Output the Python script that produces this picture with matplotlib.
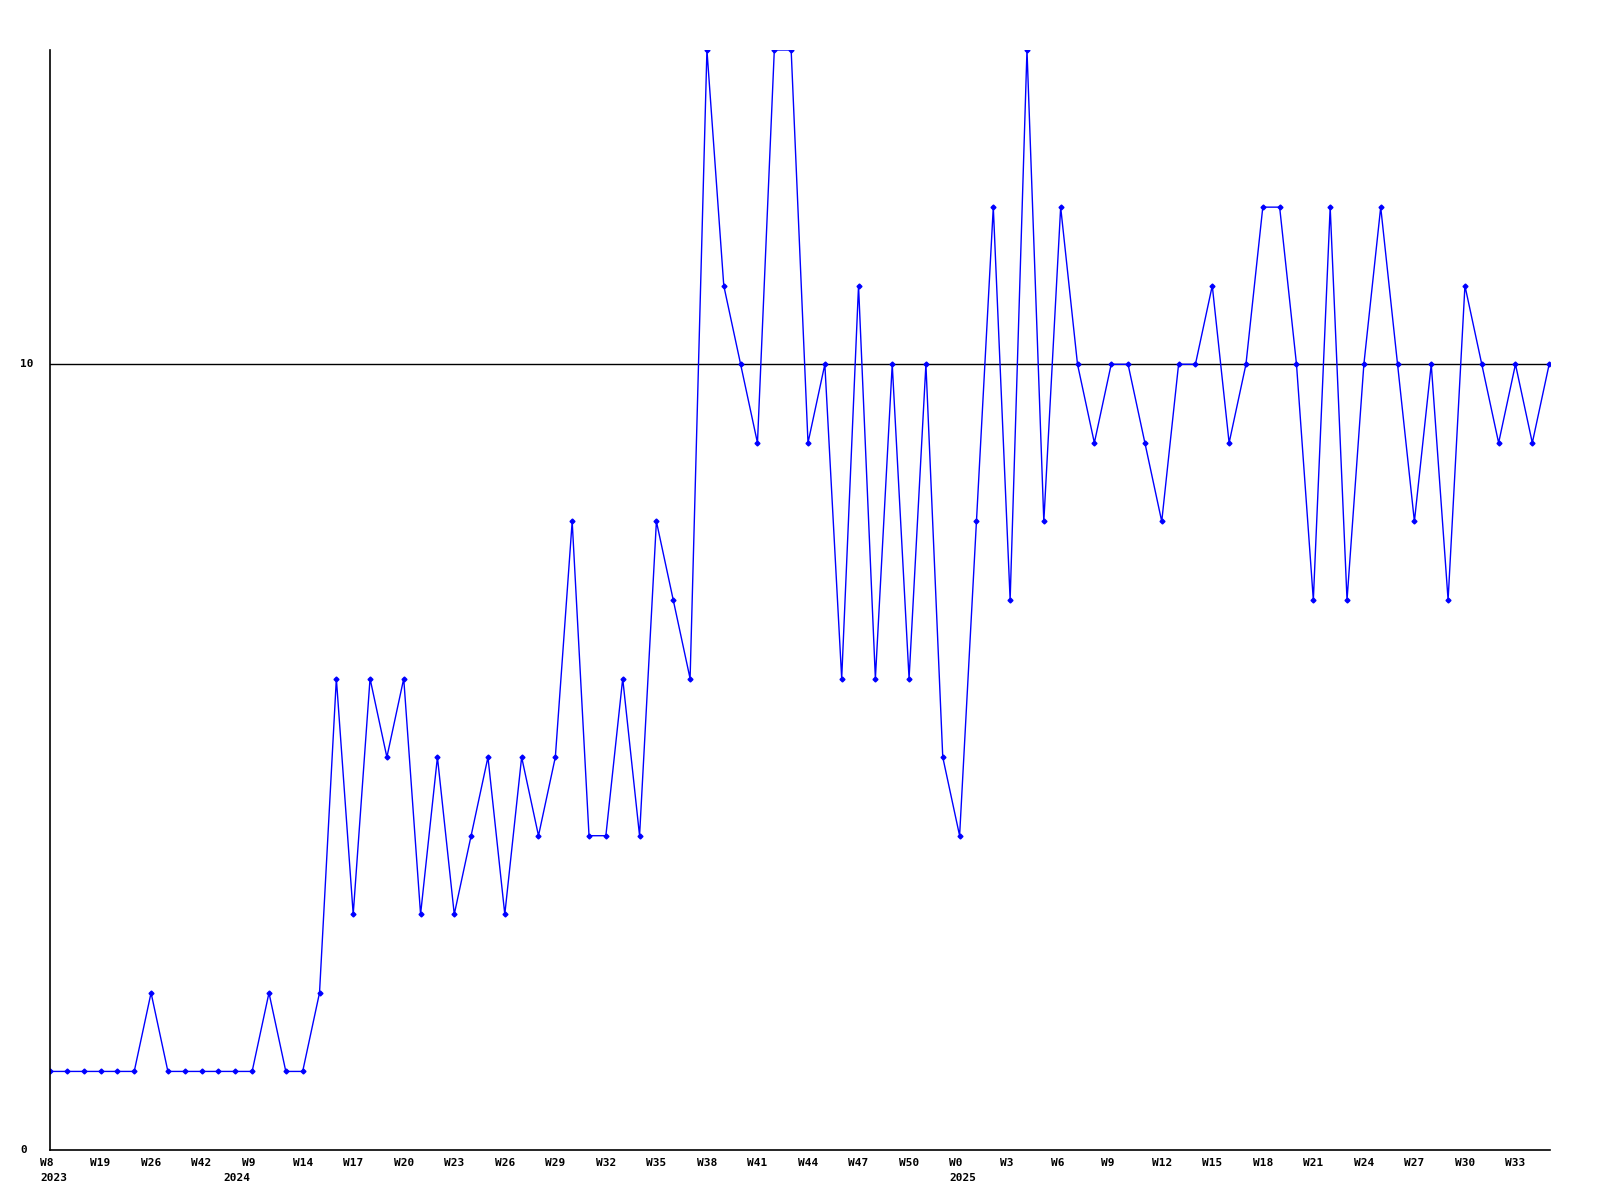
import matplotlib.pyplot as plt
import matplotlib.transforms as mtransforms

# weekly values, one per point
values = [1, 1, 1, 1, 1, 1, 2, 1, 1, 1, 1, 1, 1, 2, 1, 1, 2, 6, 3, 6,
          5, 6, 3, 5, 3, 4, 5, 3, 5, 4, 5, 8, 4, 4, 6, 4, 8, 7, 6, 14,
          11, 10, 9, 14, 14, 9, 10, 6, 11, 6, 10, 6, 10, 5, 4, 8, 12, 7, 14, 8,
          12, 10, 9, 10, 10, 9, 8, 10, 10, 11, 9, 10, 12, 12, 10, 7, 12, 7, 10, 12,
          10, 8, 10, 7, 11, 10, 9, 10, 9, 10]

week_labels = ["W8", "W19", "W26", "W42", "W9", "W14", "W17", "W20", "W23", "W26",
               "W29", "W32", "W35", "W38", "W41", "W44", "W47", "W50", "W0", "W3",
               "W6", "W9", "W12", "W15", "W18", "W21", "W24", "W27", "W30", "W33"]
year_labels = {0: "2023", 10.9: "2024", 54: "2025"}

x = list(range(len(values)))

fig = plt.figure(figsize=(16, 12), dpi=100)
ax = fig.add_axes([50 / 1600, 50 / 1200, 1500 / 1600, 1100 / 1200])

ax.axhline(10, color="black", lw=1, zorder=1)
ax.plot(x, values, color="#0000ff", lw=1, marker="D", ms=2.5, zorder=2)

ax.set_xlim(0, len(values) - 1 + 0.05)
ax.set_ylim(0, 14)

for s in ["top", "right"]:
    ax.spines[s].set_visible(False)
for s in ["left", "bottom"]:
    ax.spines[s].set_linewidth(1.2)

font = dict(fontfamily="DejaVu Sans Mono", fontweight="bold", fontsize=8)

ax.set_xticks([])
ax.set_yticks([])
ylab_tr = mtransforms.blended_transform_factory(ax.transAxes, ax.transData)
for v in [0, 10]:
    ax.text(-30 / 1500, v, str(v), transform=ylab_tr, ha="left", va="center",
            **font)

off = -0.6  # labels start ~10px left of the point
for i, lab in zip(range(0, len(values), 3), week_labels):
    ax.text(i + off, -0.1, lab, ha="left", va="top", **font)
for i, yr in year_labels.items():
    ax.text(i + off, -0.29, yr, ha="left", va="top", **font)

fig.savefig("out.png", dpi=100)
